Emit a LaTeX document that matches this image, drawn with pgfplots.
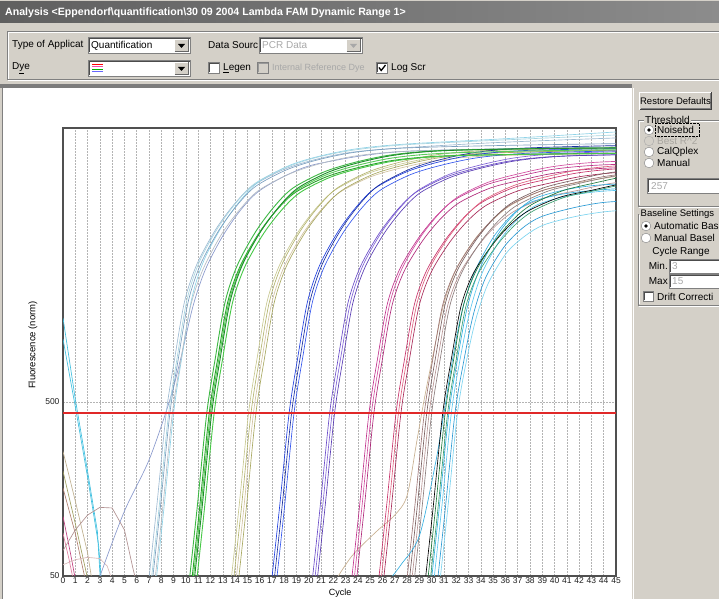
\documentclass[border=0pt]{standalone}
\usepackage{pgfplots}
\pgfplotsset{compat=1.18}
\usepackage{pgfplotstable}
\usepackage{fontspec}
\setmainfont{Liberation Sans}
\definecolor{win}{HTML}{D4D0C8}
\definecolor{tbL}{HTML}{5F5F5F}
\definecolor{tbR}{HTML}{8C8C8C}
\definecolor{sep}{HTML}{7C7C7C}
\definecolor{dis}{HTML}{A8A8A8}
\definecolor{dis2}{HTML}{A9A6A0}
\definecolor{gridc}{HTML}{B4B4B4}
\definecolor{axisc}{HTML}{505050}
\definecolor{tickc}{HTML}{202020}
\definecolor{thr}{HTML}{E02828}
\definecolor{g1a}{HTML}{9DBAD2}\definecolor{g1b}{HTML}{8FD3E8}\definecolor{g1c}{HTML}{7B9FBF}\definecolor{g1d}{HTML}{B4BCC4}\definecolor{g1e}{HTML}{A6D4E0}
\definecolor{g2a}{HTML}{3CB843}\definecolor{g2b}{HTML}{2CA02C}\definecolor{g2c}{HTML}{5ACD5A}\definecolor{g2d}{HTML}{1E8C2A}\definecolor{g2e}{HTML}{46C846}
\definecolor{g3a}{HTML}{C8C890}\definecolor{g3b}{HTML}{B4B46E}\definecolor{g3c}{HTML}{D2C3A0}\definecolor{g3d}{HTML}{A8A860}
\definecolor{g4a}{HTML}{1F3FE0}\definecolor{g4b}{HTML}{1A2FA0}\definecolor{g4c}{HTML}{3355EE}
\definecolor{g5a}{HTML}{6A4CC8}\definecolor{g5b}{HTML}{7F62D6}\definecolor{g5c}{HTML}{5A3CB4}
\definecolor{g6a}{HTML}{C0328C}\definecolor{g6b}{HTML}{D24EA0}\definecolor{g6c}{HTML}{B0287A}
\definecolor{g7a}{HTML}{C8326A}\definecolor{g7b}{HTML}{E0607E}\definecolor{g7c}{HTML}{A82A58}
\definecolor{g8a}{HTML}{9C7474}\definecolor{g8b}{HTML}{7A6060}\definecolor{g8c}{HTML}{B89494}\definecolor{g8d}{HTML}{8C7C7C}
\definecolor{g9a}{HTML}{000000}\definecolor{g9b}{HTML}{1E7A3C}\definecolor{g9c}{HTML}{3AA070}
\definecolor{g10a}{HTML}{33AEE0}\definecolor{g10b}{HTML}{5CC8F0}\definecolor{g10c}{HTML}{2A9AD4}\definecolor{g10d}{HTML}{7CD4F0}
\definecolor{nCy}{HTML}{40C0E0}\definecolor{nTan}{HTML}{C0B090}\definecolor{nOl}{HTML}{A0A060}
\definecolor{nBr}{HTML}{B08070}\definecolor{nMag}{HTML}{C04080}\definecolor{nPk}{HTML}{E080A0}
\definecolor{nRose}{HTML}{B09090}\definecolor{nRoseB}{HTML}{D8B8B8}\definecolor{nLav}{HTML}{8898CC}\definecolor{nTanB}{HTML}{C8B090}
\newcommand\ui{\fontsize{10}{11}\selectfont}
\newcommand\tk{\fontsize{8.5}{9}\selectfont}

\pgfplotstableread{
xa ya xb yb xc yc xd yd xe ye
6.8 36 7.4 36 7.1 36 7.3 36 7.0 36
7.6 120 8.2 120 7.9 120 8.1 120 7.8 120
8.4 432 9.0 432 8.7 432 8.9 432 8.6 432
9.1 900 9.7 930 9.4 900 9.6 880 9.3 910
9.9 1900 10.5 2000 10.2 1900 10.4 1800 10.1 1950
10.9 3100 11.5 3300 11.2 3100 11.4 2900 11.1 3200
12.4 4870 13.0 5200 12.7 4870 12.9 4600 12.6 5000
13.9 6800 14.5 7300 14.2 6800 14.4 6400 14.1 7000
15.4 8700 16.0 9300 15.7 8700 15.9 8200 15.6 9000
17.9 10800 18.5 11500 18.2 10800 18.4 10200 18.1 11100
20.4 12300 21.0 13000 20.7 12300 20.9 11700 20.6 12700
23.4 13600 24.0 14300 23.7 13600 23.9 13000 23.6 14000
27.4 14400 28.0 15200 27.7 14400 27.9 13800 27.6 15000
35.4 15500 36.0 16300 35.7 14900 35.9 14200 35.6 16000
45.4 16500 46.0 18000 45.7 15300 45.9 14500 45.6 17200
}\gA
\pgfplotstableread{
xa ya xb yb xc yc xd yd xe ye
10.1 36 10.3 36 10.4 36 10.5 36 10.7 36
10.9 120 11.1 120 11.2 120 11.3 120 11.5 120
11.7 432 11.9 432 12.0 432 12.1 432 12.3 432
12.4 898 12.6 895 12.7 897 12.8 898 13.0 895
13.2 1890 13.4 1870 13.5 1880 13.6 1890 13.8 1870
14.2 3070 14.4 3000 14.5 3035 14.6 3070 14.8 3000
15.7 4790 15.9 4620 16.0 4705 16.1 4790 16.3 4620
17.2 6650 17.4 6350 17.5 6500 17.6 6650 17.8 6350
18.7 8470 18.9 8000 19.0 8230 19.1 8470 19.3 8000
21.2 10470 21.4 9820 21.5 10150 21.6 10470 21.8 9820
23.7 11890 23.9 11070 24.0 11480 24.1 11890 24.3 11070
26.7 13150 26.9 12240 27.0 12690 27.1 13150 27.3 12240
30.7 13920 30.9 12960 31.0 13440 31.1 13920 31.3 12960
38.7 14300 38.9 13300 39.0 13900 39.1 14300 39.3 13300
48.7 14500 48.9 13500 49.0 14200 49.1 14500 49.3 13500
}\gB
\pgfplotstableread{
xa ya xb yb xc yc xd yd
13.5 36 13.7 36 13.9 36 14.1 36
14.3 120 14.5 120 14.7 120 14.9 120
15.1 432 15.3 432 15.5 432 15.7 432
15.8 897 16.0 898 16.2 895 16.4 897
16.6 1880 16.8 1890 17.0 1870 17.2 1880
17.6 3035 17.8 3070 18.0 3000 18.2 3035
19.1 4705 19.3 4790 19.5 4620 19.7 4705
20.6 6500 20.8 6650 21.0 6350 21.2 6500
22.1 8230 22.3 8470 22.5 8000 22.7 8230
24.6 10150 24.8 10470 25.0 9820 25.2 10150
27.1 11480 27.3 11890 27.5 11070 27.7 11480
30.1 12690 30.3 13150 30.5 12240 30.7 12690
34.1 13440 34.3 13920 34.5 12960 34.7 13440
42.1 13900 42.3 14300 42.5 13300 42.7 13900
52.1 14200 52.3 14500 52.5 13500 52.7 14200
}\gC
\pgfplotstableread{
xa ya xb yb xc yc
16.8 36 17.0 36 17.2 36
17.6 120 17.8 120 18.0 120
18.4 432 18.6 432 18.8 432
19.1 898 19.3 900 19.5 897
19.9 1890 20.1 1900 20.3 1880
20.9 3070 21.1 3100 21.3 3035
22.4 4790 22.6 4870 22.8 4705
23.9 6650 24.1 6800 24.3 6500
25.4 8470 25.6 8700 25.8 8230
27.9 10470 28.1 10800 28.3 10150
30.4 11890 30.6 12300 30.8 11480
33.4 13150 33.6 13600 33.8 12690
37.4 13920 37.6 14400 37.8 13440
45.4 14300 45.6 14900 45.8 13900
55.4 14500 55.6 15200 55.8 14200
}\gD
\pgfplotstableread{
xa ya xb yb xc yc
20.1 36 20.3 36 20.5 36
20.9 120 21.1 120 21.3 120
21.7 432 21.9 432 22.1 432
22.4 895 22.6 897 22.8 895
23.2 1870 23.4 1880 23.6 1870
24.2 3000 24.4 3035 24.6 3000
25.7 4620 25.9 4705 26.1 4620
27.2 6350 27.4 6500 27.6 6350
28.7 8000 28.9 8230 29.1 8000
31.2 9820 31.4 10150 31.6 9820
33.7 11070 33.9 11480 34.1 11070
36.7 12240 36.9 12690 37.1 12240
40.7 12960 40.9 13440 41.1 12960
48.7 13300 48.9 13900 49.1 13300
58.7 13500 58.9 14200 59.1 13500
}\gE
\pgfplotstableread{
xa ya xb yb xc yc
23.3 36 23.5 36 23.7 36
24.1 120 24.3 120 24.5 120
24.9 432 25.1 432 25.3 432
25.6 890 25.8 892 26.0 888
26.4 1840 26.6 1850 26.8 1825
27.4 2900 27.6 2935 27.8 2860
28.9 4350 29.1 4445 29.3 4260
30.4 5880 30.6 6040 30.8 5720
31.9 7280 32.1 7520 32.3 7030
34.4 8830 34.6 9160 34.8 8500
36.9 9840 37.1 10250 37.3 9430
39.9 10880 40.1 11330 40.3 10420
43.9 11520 44.1 12000 44.3 11040
51.9 11900 52.1 12400 52.3 11400
61.9 12000 62.1 12500 62.3 11500
}\gF
\pgfplotstableread{
xa ya xb yb xc yc
25.5 36 25.7 36 25.9 36
26.3 120 26.5 120 26.7 120
27.1 432 27.3 432 27.5 432
27.8 888 28.0 890 28.2 886
28.6 1825 28.8 1840 29.0 1810
29.6 2860 29.8 2900 30.0 2820
31.1 4260 31.3 4350 31.5 4170
32.6 5720 32.8 5880 33.0 5560
34.1 7030 34.3 7280 34.5 6790
36.6 8500 36.8 8830 37.0 8160
39.1 9430 39.3 9840 39.5 9020
42.1 10420 42.3 10880 42.5 9970
46.1 11040 46.3 11520 46.5 10560
54.1 11400 54.3 11900 54.5 10900
64.1 11500 64.3 12000 64.5 11000
}\gG
\pgfplotstableread{
xa ya xb yb xc yc xd yd
27.8 36 28.0 36 28.2 36 28.4 36
28.6 120 28.8 120 29.0 120 29.2 120
29.4 432 29.6 432 29.8 432 30.0 432
30.1 886 30.3 888 30.5 882 30.7 886
30.9 1810 31.1 1825 31.3 1790 31.5 1810
31.9 2820 32.1 2860 32.3 2750 32.5 2820
33.4 4170 33.6 4260 33.8 3970 34.0 4170
34.9 5560 35.1 5720 35.3 5220 35.5 5560
36.4 6790 36.6 7030 36.8 6290 37.0 6790
38.9 8160 39.1 8500 39.3 7500 39.5 8160
41.4 9020 41.6 9430 41.8 8200 42.0 9020
44.4 9970 44.6 10420 44.8 9070 45.0 9970
48.4 10560 48.6 11040 48.8 9600 49.0 10560
56.4 10900 56.6 11400 56.8 9900 57.0 10900
66.4 11000 66.6 11500 66.8 10000 67.0 11000
}\gH
\pgfplotstableread{
xa ya xb yb xc yc
29.3 36 29.5 36 29.7 36
30.1 120 30.3 120 30.5 120
30.9 432 31.1 432 31.3 432
31.6 882 31.8 886 32.0 882
32.4 1790 32.6 1810 32.8 1790
33.4 2750 33.6 2820 33.8 2750
34.9 3970 35.1 4170 35.3 3970
36.4 5220 36.6 5560 36.8 5220
37.9 6290 38.1 6790 38.3 6290
40.4 7500 40.6 8160 40.8 7500
42.9 8200 43.1 9020 43.3 8200
45.9 9070 46.1 9970 46.3 9070
49.9 9600 50.1 10560 50.3 9600
57.9 9900 58.1 10900 58.3 9900
67.9 10000 68.1 11000 68.3 10000
}\gI
\pgfplotstableread{
xa ya xb yb xc yc xd yd
29.8 36 30.0 36 30.3 36 30.5 36
30.6 120 30.8 120 31.1 120 31.3 120
31.4 432 31.6 432 31.9 432 32.1 432
32.1 880 32.3 870 32.6 850 32.8 840
32.9 1750 33.1 1650 33.4 1600 33.6 1500
33.9 2900 34.1 2750 34.4 2600 34.6 2400
35.4 4600 35.6 4300 35.9 3900 36.1 3600
36.9 6200 37.1 5700 37.4 5000 37.6 4500
38.4 7400 38.6 6800 38.9 5800 39.1 5200
40.9 8300 40.9 7600 41.4 6500 41.6 5800
43.4 8800 43.6 8100 43.9 7000 44.1 6200
46.4 9000 46.6 8300 46.9 7200 47.1 6400
50.4 9100 50.6 8400 50.9 7300 51.1 6500
}\gJ

\begin{document}
\begin{tikzpicture}[x=1pt,y=1pt]
\useasboundingbox (0,0) rectangle (719,599);
\fill[win] (0,0) rectangle (719,599);
\begin{scope}[shift={(0pt,599pt)}, x=1pt, y=-1pt,
  lbl/.style={anchor=west, inner sep=0pt, font=\ui, text=black}]
% title bar
\shade[left color=tbL, right color=tbR] (0,2) rectangle (719,23);
\node[anchor=west, inner sep=0pt, text=white, font=\fontsize{10.6}{11}\selectfont\bfseries] at (5,12.5) {Analysis <Eppendorf\textbackslash quantification\textbackslash 30 09 2004 Lambda FAM Dynamic Range 1>};
% etched frame of controls
\draw[gray] (7.5,31.5) -- (719,31.5); \draw[white] (8.5,32.5) -- (719,32.5);
\draw[gray] (7.5,31.5) -- (7.5,80.5); \draw[white] (8.5,32.5) -- (8.5,79.5);
\draw[gray] (7.5,79.5) -- (719,79.5); \draw[white] (7.5,80.5) -- (719,80.5);
% Type of application
\node[lbl] at (12,45) {Type of Applicat};
\draw[gray, fill=white] (88.5,37.5) rectangle (190.5,53.5);
\draw[black!70] (89.5,52.5) -- (89.5,38.5) -- (190,38.5);
\fill[win] (174,39) rectangle (189,52);
\draw[white] (174.5,52) -- (174.5,39.5) -- (189,39.5);
\draw[black!60] (174.5,51.5) -- (188.5,51.5) -- (188.5,39.5);
\fill[black] (178,44) -- (185,44) -- (181.5,48) -- cycle;
\node[lbl] at (91,45.5) {Quantification};
% Data source
\node[lbl] at (208,45) {Data Sourc};
\draw[gray, fill=white] (259.5,37.5) rectangle (362.5,53.5);
\draw[black!70] (260.5,52.5) -- (260.5,38.5) -- (362,38.5);
\fill[win] (346,39) rectangle (361,52);
\draw[white] (346.5,52) -- (346.5,39.5) -- (361,39.5);
\draw[black!60] (346.5,51.5) -- (360.5,51.5) -- (360.5,39.5);
\fill[dis] (350,44) -- (357,44) -- (353.5,48) -- cycle;
\node[lbl, text=dis] at (262,45.5) {PCR Data};
% Dye
\node[lbl] at (12,68.5) {D\underline{y}e};
\draw[gray, fill=white] (88.5,60.5) rectangle (190.5,76.5);
\draw[black!70] (89.5,75.5) -- (89.5,61.5) -- (190,61.5);
\fill[win] (174,62) rectangle (189,75);
\draw[white] (174.5,75) -- (174.5,62.5) -- (189,62.5);
\draw[black!60] (174.5,74.5) -- (188.5,74.5) -- (188.5,62.5);
\fill[black] (178,67) -- (185,67) -- (181.5,71) -- cycle;
\draw[red, line width=1pt] (92,64.5) -- (103,64.5);
\draw[magenta!70, line width=1pt] (92,67) -- (103,67);
\draw[green!70!black, line width=1pt] (92,69.5) -- (103,69.5);
\draw[blue!60, line width=1pt] (92,72) -- (103,72);
% checkboxes
\draw[gray, fill=white] (208.5,62.5) rectangle (219.5,73.5);
\draw[black!70] (209.5,72.5) -- (209.5,63.5) -- (219,63.5);
\node[lbl] at (223,68.5) {\underline{L}egen};
\draw[gray, fill=win] (257.5,62.5) rectangle (268.5,73.5);
\draw[black!40] (258.5,72.5) -- (258.5,63.5) -- (268,63.5);
\node[lbl, text=dis, font=\fontsize{9}{10}\selectfont] at (272,68.5) {Internal Reference Dye};
\draw[gray, fill=white] (376.5,62.5) rectangle (387.5,73.5);
\draw[black!70] (377.5,72.5) -- (377.5,63.5) -- (387,63.5);
\draw[black, line width=1.3pt] (379,67.5) -- (381.2,70.5) -- (385.5,65);
\node[lbl] at (391,68.5) {Log Scr};
% separator bar
\fill[sep] (0,84) rectangle (632,88.5);
% main white area
\fill[white] (3,88.5) rectangle (632,599);
\draw[gray] (2.5,88.5) -- (2.5,599);
\draw[white, line width=1pt] (633,88) -- (633,599);
% right panel: restore defaults button
\fill[win] (639,92) rectangle (712,110);
\draw[white] (639.5,110) -- (639.5,92.5) -- (712,92.5);
\draw[black!75] (639.5,109.5) -- (711.5,109.5) -- (711.5,92.5);
\draw[gray] (640.5,108.5) -- (710.5,108.5) -- (710.5,93.5);
\node[anchor=center, inner sep=0pt, font=\fontsize{9.5}{10}\selectfont] at (675.5,101) {Restore Defaults};
% threshold group
\draw[gray] (638.5,120.5) -- (638.5,206.5) -- (719,206.5);
\draw[white] (639.5,121.5) -- (639.5,205.5); \draw[white] (638.5,207.5) -- (719,207.5);
\draw[gray] (638.5,120.5) -- (719,120.5); \draw[white] (639.5,121.5) -- (719,121.5);
\node[lbl, fill=win, inner xsep=1pt, inner ysep=0.5pt] at (644,120) {Threshold};
\draw[gray, fill=white] (649,130) circle (4.8);
\fill[black] (649,130) circle (1.8);
\node[lbl] at (657,130) {Noisebd};
\draw[black, densely dotted] (655.5,123.5) rectangle (699,136.5);
\draw[dis, fill=win] (649,141) circle (4.8);
\node[lbl, text=dis2] at (657,141) {Best R\textasciicircum{}2};
\draw[gray, fill=white] (649,152) circle (4.8);
\node[lbl] at (657,152) {CalQplex};
\draw[gray, fill=white] (649,163) circle (4.8);
\node[lbl] at (657,163) {Manual};
\draw[gray, fill=white] (647.5,178.5) rectangle (719,193.5);
\draw[black!70] (648.5,192.5) -- (648.5,179.5) -- (719,179.5);
\node[lbl, text=dis] at (651,186) {257};
% baseline group
\draw[gray] (638.5,214.5) -- (638.5,305.5) -- (719,305.5);
\draw[white] (639.5,215.5) -- (639.5,304.5); \draw[white] (638.5,306.5) -- (719,306.5);
\node[lbl, fill=win, inner xsep=0.5pt, font=\fontsize{9.5}{10}\selectfont] at (640,214) {Baseline Settings};
\draw[gray, fill=white] (646,226) circle (4.8);
\fill[black] (646,226) circle (1.8);
\node[lbl] at (654,226) {Automatic Bas};
\draw[gray, fill=white] (646,238) circle (4.8);
\node[lbl] at (654,238) {Manual Basel};
\node[anchor=center, inner sep=0pt, font=\ui] at (681,252) {Cycle Range};
\node[anchor=east, inner sep=0pt, font=\ui] at (668,266) {Min.};
\draw[gray, fill=white] (669.5,259.5) rectangle (719,273.5);
\draw[black!70] (670.5,272.5) -- (670.5,260.5) -- (719,260.5);
\node[lbl, text=dis] at (672,266.5) {3};
\node[anchor=east, inner sep=0pt, font=\ui] at (668,281) {Max};
\draw[gray, fill=white] (669.5,274.5) rectangle (719,288.5);
\draw[black!70] (670.5,287.5) -- (670.5,275.5) -- (719,275.5);
\node[lbl, text=dis] at (672,281.5) {15};
\draw[gray, fill=white] (643.5,291.5) rectangle (653.5,301.5);
\draw[black!70] (644.5,300.5) -- (644.5,292.5) -- (653,292.5);
\node[lbl] at (657,296.5) {Drift Correcti};
% axis labels
\node[rotate=90, inner sep=0pt, font=\fontsize{9.5}{10}\selectfont] at (33,345) {Fluorescence (norm)};
\node[inner sep=0pt, font=\fontsize{9}{10}\selectfont] at (340,593) {Cycle};
\end{scope}

\begin{axis}[
  at={(63pt,23pt)}, anchor=south west,
  scale only axis, width=553pt, height=448pt,
  xmin=0, xmax=45, ymin=50, ymax=18780, ymode=log,
  xtick={0,1,...,45}, ytick={50,500}, yticklabels={50,500},
  yminorticks=false,
  xmajorgrids, ymajorgrids,
  major grid style={dash pattern=on 1.5pt off 1.5pt, color=gridc, line width=0.5pt},
  major tick length=0pt,
  tick label style={font=\tk, text=tickc},
  xticklabel style={inner sep=1.5pt},
  /pgf/number format/assume math mode=true,
  axis line style={draw=axisc, line width=1.4pt},
  every axis plot/.append style={line width=0.65pt, smooth},
]
% noise at start
\addplot[nCy, sharp plot] coordinates {(0,1520) (1,520) (2,200) (2.8,90) (3.1,40)};
\addplot[nCy, sharp plot] coordinates {(0,1150) (1,470) (2,185) (2.9,75) (3.2,40)};
\addplot[nTan, sharp plot] coordinates {(0,260) (1,135) (2,68) (2.4,45)};
\addplot[nOl, sharp plot] coordinates {(0,200) (1,100) (1.9,52) (2.1,45)};
\addplot[nBr, sharp plot] coordinates {(0,160) (1,88) (1.8,48) (2,44)};
\addplot[nMag, sharp plot] coordinates {(0,110) (0.6,68) (1.1,44)};
\addplot[nPk, sharp plot] coordinates {(0,88) (0.5,62) (0.9,45)};
\addplot[nRose, sharp plot] coordinates {(0,70) (1,92) (2,112) (3,124) (4,123) (5,92) (5.7,55) (6,45)};
\addplot[nRoseB, sharp plot] coordinates {(0,58) (1,62) (2,64) (3,63) (3.6,57) (4.1,45)};
\addplot[nLav] coordinates {(2.9,45) (3.1,52) (5,118) (7,232) (8.7,515) (9.6,900) (10.6,1800) (11.6,2900) (13,4500) (14.5,6400) (16,8200) (18.5,10300) (21,11800) (28,13800) (45,14600)};
\addplot[nTanB] coordinates {(22,45) (23.5,65) (25.5,90) (27,112) (28,145) (28.8,300) (29.4,520) (30.2,1000) (31,1850) (32,2900) (33.5,4300) (35,5600) (36.5,6800) (39,8200) (41.5,9000) (45,9900)};
% group 1
\addplot[g1a] table[x=xa,y=ya]{\gA};
\addplot[g1b] table[x=xb,y=yb]{\gA};
\addplot[g1c] table[x=xc,y=yc]{\gA};
\addplot[g1d] table[x=xd,y=yd]{\gA};
\addplot[g1e] table[x=xe,y=ye]{\gA};
% group 3 khaki
\addplot[g3a] table[x=xa,y=ya]{\gC};
\addplot[g3b] table[x=xb,y=yb]{\gC};
\addplot[g3c] table[x=xc,y=yc]{\gC};
\addplot[g3d] table[x=xd,y=yd]{\gC};
% group 4 blue
\addplot[g4a] table[x=xa,y=ya]{\gD};
\addplot[g4b] table[x=xb,y=yb]{\gD};
\addplot[g4c] table[x=xc,y=yc]{\gD};
% group 5 purple
\addplot[g5a] table[x=xa,y=ya]{\gE};
\addplot[g5b] table[x=xb,y=yb]{\gE};
\addplot[g5c] table[x=xc,y=yc]{\gE};
% group 6 magenta
\addplot[g6a] table[x=xa,y=ya]{\gF};
\addplot[g6b] table[x=xb,y=yb]{\gF};
\addplot[g6c] table[x=xc,y=yc]{\gF};
% group 7 crimson
\addplot[g7a] table[x=xa,y=ya]{\gG};
\addplot[g7b] table[x=xb,y=yb]{\gG};
\addplot[g7c] table[x=xc,y=yc]{\gG};
% group 8 brown
\addplot[g8a] table[x=xa,y=ya]{\gH};
\addplot[g8b] table[x=xb,y=yb]{\gH};
\addplot[g8c] table[x=xc,y=yc]{\gH};
\addplot[g8d] table[x=xd,y=yd]{\gH};
% group 10 cyan
\addplot[g10a] table[x=xa,y=ya]{\gJ};
\addplot[g10b] table[x=xb,y=yb]{\gJ};
\addplot[g10c] table[x=xc,y=yc]{\gJ};
\addplot[g10d] table[x=xd,y=yd]{\gJ};
\addplot[g10a] coordinates {(26.3,45) (27.5,58) (29,85) (30.3,220) (31.0,432) (31.7,880) (32.5,1700) (33.5,2800) (35,4400) (36.5,5900) (38,7000) (40.5,7800) (43,8200) (45,8400)};
% group 9 black/teal
\addplot[g9a] table[x=xa,y=ya]{\gI};
\addplot[g9b] table[x=xb,y=yb]{\gI};
\addplot[g9c] table[x=xc,y=yc]{\gI};
% group 2 green (drawn late, thick bundle)
\addplot[g2a, line width=0.9pt] table[x=xa,y=ya]{\gB};
\addplot[g2b, line width=0.9pt] table[x=xb,y=yb]{\gB};
\addplot[g2c, line width=0.9pt] table[x=xc,y=yc]{\gB};
\addplot[g2d, line width=0.9pt] table[x=xd,y=yd]{\gB};
\addplot[g2e, line width=0.9pt] table[x=xe,y=ye]{\gB};
% threshold
\addplot[thr, line width=1.3pt, sharp plot] coordinates {(0,433) (45,433)};
\end{axis}
\end{tikzpicture}
\end{document}
